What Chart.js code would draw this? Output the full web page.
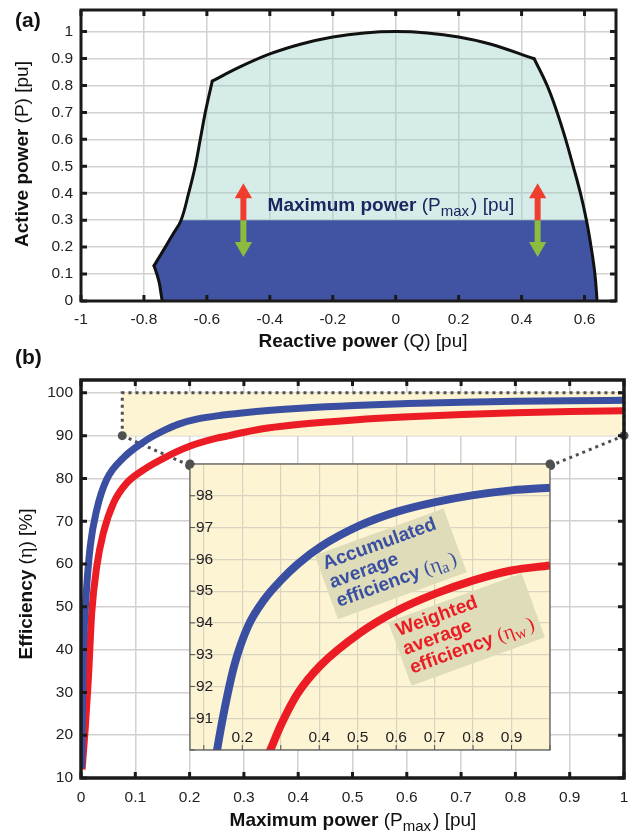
<!DOCTYPE html>
<html>
<head>
<meta charset="utf-8">
<script src="https://cdn.jsdelivr.net/npm/chart.js@4.4.0/dist/chart.umd.min.js"></script>
<style>
  html, body { margin: 0; padding: 0; background: #fff; }
  #wrap { position: relative; width: 636px; height: 836px; overflow: hidden; }
  canvas { position: absolute; }
</style>
</head>
<body>
<div id="wrap">
  <canvas id="chartA" width="636" height="360" style="left:0;top:0"></canvas>
  <canvas id="chartB" width="636" height="491" style="left:0;top:345px"></canvas>
  <canvas id="chartInset" width="380" height="305" style="left:180px;top:455px"></canvas>
</div>
<script>
// ---- (a) capability curve ----
const leftQ = [-0.742, -0.746, -0.751, -0.759, -0.768, -0.732, -0.707, -0.682, -0.658, -0.637, -0.621, -0.605, -0.583];
const leftP = [0, 0.03, 0.066, 0.1, 0.131, 0.2, 0.25, 0.3, 0.4, 0.5, 0.6, 0.7, 0.816];
const topQ = [-0.5, -0.4, -0.3, -0.2, -0.1, 0, 0.1, 0.2, 0.3, 0.44];
const topP = [0.866, 0.917, 0.954, 0.98, 0.995, 1, 0.995, 0.98, 0.954, 0.899];
const rightQ = [0.481, 0.513, 0.54, 0.564, 0.587, 0.606, 0.621, 0.633, 0.64];
const rightP = [0.8, 0.7, 0.6, 0.5, 0.4, 0.3, 0.2, 0.1, 0];
const pMaxLevel = 0.3;
const arrowQ = [-0.484, 0.451];
const arrowUpTo = 0.385, arrowUpHead = 0.4;
const arrowDownTo = 0.215, arrowDownHead = 0.2;
const aXTicks = [-1, -0.8, -0.6, -0.4, -0.2, 0, 0.2, 0.4, 0.6];
const aYTicks = [0, 0.1, 0.2, 0.3, 0.4, 0.5, 0.6, 0.7, 0.8, 0.9, 1];

// ---- (b) efficiency curves ----
const accP = [0.001, 0.004, 0.009, 0.017, 0.029, 0.047, 0.078, 0.115, 0.133, 0.154, 0.18, 0.215, 0.258, 0.301, 0.344, 0.404, 0.503, 0.603, 0.702, 0.801, 0.9, 1.0];
const accEta = [12.3, 37.6, 51.7, 64.1, 72.7, 79.7, 84.8, 88.5, 89.9, 91.3, 92.7, 93.9, 94.75, 95.35, 95.85, 96.4, 97.05, 97.5, 97.8, 98.02, 98.17, 98.25];
const wgtP = [0.002, 0.008, 0.0135, 0.0197, 0.029, 0.041, 0.06, 0.084, 0.115, 0.158, 0.2, 0.25, 0.271, 0.301, 0.344, 0.404, 0.503, 0.603, 0.702, 0.801, 0.9, 1.0];
const wgtEta = [12, 22, 33, 48.5, 59.4, 67.2, 74.3, 78.9, 82.0, 85.1, 87.5, 89.4, 89.95, 90.8, 91.78, 92.67, 93.66, 94.39, 94.92, 95.34, 95.65, 95.81];
const zoomP = [0.076, 1];
const zoomEta = [90, 100];
const insetCornerP = [0.2, 0.865];
const insetCornerEta = 83;
const bXTicks = [0, 0.1, 0.2, 0.3, 0.4, 0.5, 0.6, 0.7, 0.8, 0.9, 1];
const bYTicks = [10, 20, 30, 40, 50, 60, 70, 80, 90, 100];
const insetXTicks = [0.1, 0.2, 0.3, 0.4, 0.5, 0.6, 0.7, 0.8, 0.9, 1];
const insetXLabelled = [0.2, 0.4, 0.5, 0.6, 0.7, 0.8, 0.9];
const insetYTicks = [90, 91, 92, 93, 94, 95, 96, 97, 98, 99];
const insetYLabelled = [91, 92, 93, 94, 95, 96, 97, 98];

const SANS = '"Liberation Sans", Arial, Helvetica, sans-serif';
const SERIF = '"Liberation Serif", "DejaVu Serif", serif';
const BLUE = '#3a4fa1';
const RED = '#ec1c24';
const DOTS = '#505050';

const pts = (xs, ys) => xs.map((x, i) => ({ x, y: ys[i] }));
const fixedTicks = values => scale => { scale.ticks = values.map(v => ({ value: v })); };
// force the axis box size and drop the label overhang padding
const fitTo = (key, size) => s => {
  s[key] = size;
  s.paddingTop = 0; s.paddingBottom = 0; s.paddingLeft = 0; s.paddingRight = 0;
};

function drawRuns(ctx, runs, x, y, align) {
  let w = 0;
  runs.forEach(r => { ctx.font = r.font; w += ctx.measureText(r.text).width + (r.gap || 0); });
  let cx = align === 'center' ? x - w / 2 : x;
  ctx.textAlign = 'left';
  ctx.textBaseline = 'alphabetic';
  runs.forEach(r => {
    ctx.font = r.font;
    ctx.fillStyle = r.color;
    ctx.fillText(r.text, cx, y + (r.dy || 0));
    cx += ctx.measureText(r.text).width + (r.gap || 0);
  });
}

// box and inward tick marks, MATLAB style
const framePlugin = {
  id: 'frame',
  afterDatasetsDraw(chart, args, o) {
    const { ctx, chartArea: a, scales: { x, y } } = chart;
    ctx.save();
    ctx.strokeStyle = o.color;
    ctx.lineWidth = o.tickWidth;
    ctx.beginPath();
    x.ticks.forEach(t => {
      const px = x.getPixelForValue(t.value);
      ctx.moveTo(px, a.bottom); ctx.lineTo(px, a.bottom - o.tickLen);
      if (o.allSides) { ctx.moveTo(px, a.top); ctx.lineTo(px, a.top + o.tickLen); }
    });
    y.ticks.forEach(t => {
      const py = y.getPixelForValue(t.value);
      ctx.moveTo(a.left, py); ctx.lineTo(a.left + o.tickLen, py);
      if (o.allSides) { ctx.moveTo(a.right, py); ctx.lineTo(a.right - o.tickLen, py); }
    });
    ctx.stroke();
    ctx.lineWidth = o.width;
    ctx.strokeRect(a.left, a.top, a.right - a.left, a.bottom - a.top);
    ctx.restore();
  }
};

// axis titles and panel letters
const titlesPlugin = {
  id: 'titles',
  afterDraw(chart, args, o) {
    const ctx = chart.ctx;
    o.items.forEach(it => {
      ctx.save();
      ctx.translate(it.x, it.y);
      if (it.rotate) ctx.rotate(it.rotate);
      drawRuns(ctx, it.runs, 0, 0, it.align || 'center');
      ctx.restore();
    });
  }
};

const B19 = `bold 19px ${SANS}`;
const N19 = `19px ${SANS}`;
const SUB = `15px ${SANS}`;
const INK = '#111';

// ================= (a) =================
const leftPts = pts(leftQ, leftP);
const topPts = pts(topQ, topP);
const rightPts = pts(rightQ, rightP);
const boundary = [...leftPts, ...topPts, ...rightPts];
const lowPart = [...leftPts.filter(p => p.y <= pMaxLevel), ...rightPts.filter(p => p.y <= pMaxLevel)];
// outline drawn piece by piece so the corners stay sharp
const outlinePieces = [
  leftPts.slice(0, 5),
  leftPts.slice(4),
  [leftPts[leftPts.length - 1], ...topPts],
  [topPts[topPts.length - 1], ...rightPts],
];
const outlineSets = outlinePieces.map(d => ({
  data: d, borderColor: '#111', borderWidth: 3, pointRadius: 0, tension: 0.4,
  borderCapStyle: 'round', borderJoinStyle: 'round', order: 0
}));

const arrowSets = arrowQ.flatMap(q => [
  { data: [{ x: q, y: pMaxLevel }, { x: q, y: arrowUpTo }], borderColor: '#ef3e2d', borderWidth: 6, borderCapStyle: 'butt', pointRadius: 0, order: 0 },
  { data: [{ x: q, y: pMaxLevel }, { x: q, y: arrowDownTo }], borderColor: '#8dbb3d', borderWidth: 6, borderCapStyle: 'butt', pointRadius: 0, order: 0 },
]);
const headSets = [
  { data: arrowQ.map(q => ({ x: q, y: arrowUpHead })), showLine: false, pointStyle: 'triangle', pointRadius: 10, pointRotation: 0, pointBackgroundColor: '#ef3e2d', pointBorderWidth: 0, order: 0 },
  { data: arrowQ.map(q => ({ x: q, y: arrowDownHead })), showLine: false, pointStyle: 'triangle', pointRadius: 10, pointRotation: 180, pointBackgroundColor: '#8dbb3d', pointBorderWidth: 0, order: 0 },
];

const pmaxLabelPlugin = {
  id: 'pmaxLabel',
  afterDatasetsDraw(chart) {
    const { ctx, scales: { x, y } } = chart;
    const c = '#1c2560';
    drawRuns(ctx, [
      { text: 'Maximum power ', font: B19, color: c },
      { text: '(P', font: N19, color: c },
      { text: 'max', font: SUB, color: c, dy: 5, gap: 2 },
      { text: ') [pu]', font: N19, color: c },
    ], x.getPixelForValue(-0.015), y.getPixelForValue(0.333), 'center');
  }
};

new Chart(document.getElementById('chartA'), {
  type: 'line',
  data: {
    datasets: [
      ...outlineSets,
      ...arrowSets,
      ...headSets,
      { data: lowPart, borderWidth: 0, pointRadius: 0, fill: 'shape', backgroundColor: '#4154a4', order: 5 },
      { data: boundary, borderWidth: 0, pointRadius: 0, fill: 'shape', backgroundColor: 'rgba(151,207,201,0.4)', order: 6 },
    ]
  },
  options: {
    responsive: false, animation: false, devicePixelRatio: 1,
    layout: { padding: { top: 10, right: 20, left: 0, bottom: 0 } },
    plugins: {
      legend: { display: false }, tooltip: { enabled: false },
      frame: { color: '#1a1a1a', width: 3, tickWidth: 3, tickLen: 6, allSides: true },
      titles: { items: [
        { x: 15, y: 27, align: 'left', runs: [{ text: '(a)', font: `bold 21px ${SANS}`, color: INK }] },
        { x: 28, y: 154, rotate: -Math.PI / 2, runs: [
          { text: 'Active power ', font: B19, color: INK },
          { text: '(P) [pu]', font: N19, color: INK }] },
        { x: 363, y: 347, runs: [
          { text: 'Reactive power ', font: B19, color: INK },
          { text: '(Q) [pu]', font: N19, color: INK }] },
      ] }
    },
    scales: {
      x: {
        type: 'linear', min: -1, max: 0.7,
        afterBuildTicks: fixedTicks(aXTicks),
        afterFit: fitTo('height', 59),
        grid: { color: '#d4d0cd', lineWidth: 1.5, drawTicks: false },
        border: { display: false },
        ticks: { padding: 9, autoSkip: false, maxRotation: 0, color: '#222', font: { family: SANS, size: 15.5 }, callback: v => String(v) }
      },
      y: {
        type: 'linear', min: 0, max: 1.08,
        afterBuildTicks: fixedTicks(aYTicks),
        afterFit: fitTo('width', 81),
        grid: { color: '#d4d0cd', lineWidth: 1.5, drawTicks: false },
        border: { display: false },
        ticks: { padding: 8, autoSkip: false, color: '#222', font: { family: SANS, size: 15.5 }, callback: v => String(v) }
      }
    }
  },
  plugins: [framePlugin, titlesPlugin, pmaxLabelPlugin]
});

// ================= (b) =================
const zoomBox = [
  { x: zoomP[0], y: zoomEta[0] }, { x: zoomP[0], y: zoomEta[1] },
  { x: zoomP[1], y: zoomEta[1] }, { x: zoomP[1], y: zoomEta[0] }
];
const connectorSets = [0, 1].map(i => ({
  data: [{ x: zoomP[i], y: zoomEta[0] }, { x: insetCornerP[i], y: insetCornerEta }],
  borderColor: DOTS, borderWidth: 3, borderDash: [3, 4], pointRadius: 4.5,
  pointBackgroundColor: DOTS, pointBorderWidth: 0, clip: 8, order: 3
}));

new Chart(document.getElementById('chartB'), {
  type: 'line',
  data: {
    datasets: [
      { data: pts(accP, accEta), borderColor: BLUE, borderWidth: 7, pointRadius: 0, cubicInterpolationMode: 'monotone', order: 1 },
      { data: pts(wgtP, wgtEta), borderColor: RED, borderWidth: 7, pointRadius: 0, cubicInterpolationMode: 'monotone', order: 2 },
      ...connectorSets,
      { data: zoomBox, borderColor: DOTS, borderWidth: 3, borderDash: [3, 4], pointRadius: 0, fill: 'shape', backgroundColor: '#fdf4d3', clip: 4, order: 4 },
    ]
  },
  options: {
    responsive: false, animation: false, devicePixelRatio: 1,
    layout: { padding: { top: 35, right: 12, left: 0, bottom: 0 } },
    plugins: {
      legend: { display: false }, tooltip: { enabled: false },
      frame: { color: '#1a1a1a', width: 3.5, tickWidth: 3, tickLen: 6, allSides: true },
      titles: { items: [
        { x: 15, y: 19, align: 'left', runs: [{ text: '(b)', font: `bold 21px ${SANS}`, color: INK }] },
        { x: 32, y: 239, rotate: -Math.PI / 2, runs: [
          { text: 'Efficiency ', font: B19, color: INK },
          { text: '(', font: N19, color: INK },
          { text: 'η', font: `20px ${SERIF}`, color: INK },
          { text: ') [%]', font: N19, color: INK }] },
        { x: 353, y: 481, runs: [
          { text: 'Maximum power ', font: B19, color: INK },
          { text: '(P', font: N19, color: INK },
          { text: 'max', font: SUB, color: INK, dy: 5, gap: 2 },
          { text: ') [pu]', font: N19, color: INK }] },
      ] }
    },
    scales: {
      x: {
        type: 'linear', min: 0, max: 1,
        afterBuildTicks: fixedTicks(bXTicks),
        afterFit: fitTo('height', 58),
        grid: { color: '#d4d0cd', lineWidth: 1.5, drawTicks: false },
        border: { display: false },
        ticks: { padding: 10, autoSkip: false, maxRotation: 0, color: '#222', font: { family: SANS, size: 15.5 }, callback: v => String(v) }
      },
      y: {
        type: 'linear', min: 10, max: 103,
        afterBuildTicks: fixedTicks(bYTicks),
        afterFit: fitTo('width', 81),
        grid: { color: '#d4d0cd', lineWidth: 1.5, drawTicks: false },
        border: { display: false },
        ticks: { padding: 8, autoSkip: false, color: '#222', font: { family: SANS, size: 15.5 }, callback: v => String(v) }
      }
    }
  },
  plugins: [framePlugin, titlesPlugin]
});

// ================= inset =================
const insetBgPlugin = {
  id: 'insetBg',
  beforeDraw(chart) {
    const { ctx, chartArea: a } = chart;
    ctx.save();
    ctx.fillStyle = '#fdf4d3';
    ctx.fillRect(a.left, a.top, a.right - a.left, a.bottom - a.top);
    ctx.restore();
  },
  afterDraw(chart) {
    const { ctx, chartArea: a } = chart;
    ctx.save();
    ctx.fillStyle = DOTS;
    [a.left, a.right].forEach(px => { ctx.beginPath(); ctx.arc(px, a.top, 4.5, 0, Math.PI * 2); ctx.fill(); });
    ctx.restore();
  }
};

const noteBoxes = [
  { p: 0.586, eta: 95.86, w: 137, h: 68, color: BLUE, lines: ['Accumulated', 'average', 'efficiency '], sub: 'a' },
  { p: 0.783, eta: 93.79, w: 142, h: 68, color: RED, lines: ['Weighted', 'average', 'efficiency '], sub: 'w' },
];
const notesPlugin = {
  id: 'notes',
  afterDatasetsDraw(chart) {
    const { ctx, scales: { x, y } } = chart;
    noteBoxes.forEach(b => {
      ctx.save();
      ctx.translate(x.getPixelForValue(b.p), y.getPixelForValue(b.eta));
      ctx.rotate(-20 * Math.PI / 180);
      ctx.fillStyle = '#dedcb9';
      ctx.fillRect(-b.w / 2, -b.h / 2, b.w, b.h);
      const lx = -b.w / 2 + 5;
      const f = `bold 19px ${SANS}`;
      drawRuns(ctx, [{ text: b.lines[0], font: f, color: b.color }], lx, -17, 'left');
      drawRuns(ctx, [{ text: b.lines[1], font: f, color: b.color }], lx, 3, 'left');
      drawRuns(ctx, [
        { text: b.lines[2], font: f, color: b.color },
        { text: '(η', font: `20px ${SERIF}`, color: b.color },
        { text: b.sub, font: `16px ${SERIF}`, color: b.color, dy: 4, gap: 3 },
        { text: ')', font: `20px ${SERIF}`, color: b.color },
      ], lx, 23, 'left');
      ctx.restore();
    });
  }
};

new Chart(document.getElementById('chartInset'), {
  type: 'line',
  data: {
    datasets: [
      { data: pts(accP, accEta), borderColor: BLUE, borderWidth: 8, pointRadius: 0, cubicInterpolationMode: 'monotone', order: 1 },
      { data: pts(wgtP, wgtEta), borderColor: RED, borderWidth: 8, pointRadius: 0, cubicInterpolationMode: 'monotone', order: 2 },
    ]
  },
  options: {
    responsive: false, animation: false, devicePixelRatio: 1,
    layout: { padding: { top: 9, right: 10, left: 10, bottom: 10 } },
    plugins: {
      legend: { display: false }, tooltip: { enabled: false },
      frame: { color: '#555', width: 1.2, tickWidth: 1, tickLen: 5, allSides: false },
    },
    scales: {
      x: {
        type: 'linear', min: 0.064, max: 1,
        afterBuildTicks: fixedTicks(insetXTicks),
        afterFit: fitTo('height', 0),
        grid: { color: '#d9d3c2', lineWidth: 1.2, drawTicks: false },
        border: { display: false },
        ticks: { mirror: true, padding: 3, autoSkip: false, maxRotation: 0, color: '#222', font: { family: SANS, size: 15.5 },
          callback: v => insetXLabelled.includes(v) ? String(v) : '' }
      },
      y: {
        type: 'linear', min: 90, max: 99,
        afterBuildTicks: fixedTicks(insetYTicks),
        afterFit: fitTo('width', 0),
        grid: { color: '#d9d3c2', lineWidth: 1.2, drawTicks: false },
        border: { display: false },
        ticks: { mirror: true, padding: 6, autoSkip: false, color: '#222', font: { family: SANS, size: 15.5 },
          callback: v => insetYLabelled.includes(v) ? String(v) : '' }
      }
    }
  },
  plugins: [insetBgPlugin, framePlugin, notesPlugin]
});
</script>
</body>
</html>
